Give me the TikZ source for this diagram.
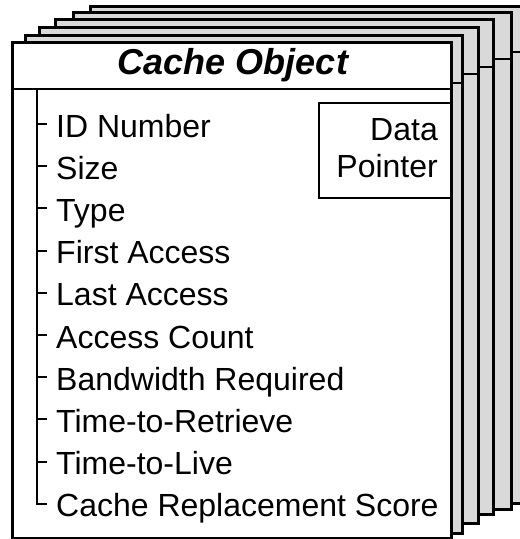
\documentclass[tikz,border=0pt]{standalone}
\usepackage{fontspec}
\setmainfont{Liberation Sans}
\definecolor{sheetgray}{RGB}{217,217,217}
\begin{document}
\begin{tikzpicture}[x=1pt,y=-1pt,
  sheet/.style={draw=black, fill=sheetgray, line width=3pt},
  frontsheet/.style={draw=black, fill=white, line width=3pt},
  sepline/.style={line width=2.8pt},
  treeline/.style={line width=2pt},
  item/.style={anchor=base west, inner sep=0pt, font=\fontsize{32}{38}\selectfont},
  ptrtext/.style={anchor=base east, inner sep=0pt, font=\fontsize{32}{38}\selectfont},
  titletext/.style={anchor=base, inner sep=0pt, font=\fontsize{36}{42}\selectfont\bfseries\itshape},
  ptrbox/.style={draw=black, line width=2.2pt, fill=white, inner sep=0pt, anchor=north west, minimum width=133pt, minimum height=95pt}]
\useasboundingbox (0,0) rectangle (520,539);
\begin{scope}
\clip (0,0) rectangle (520,539);
% back sheets: left, top, right, bottom, separator
\foreach \l/\t/\r/\b/\s in {90/6/528/503/52, 73/12/511/509/59, 55/19/493/514/67, 39/27/478/523/74, 25/35/462/533/83} {
  \draw[sheet] (\l,\t) rectangle (\r,\b);
  \draw[sepline] (\l,\s) -- (\r,\s);
}
% front sheet
\draw[frontsheet] (12,42) rectangle (451,538.5);
\draw[sepline] (12,89) -- (451,89);
\node[titletext] (title) at (233,74) {Cache Object};
% data pointer box
\node[ptrbox] (ptr) at (318,102) {};
\node[ptrtext] (ptrA) at (438,140) {Data};
\node[ptrtext] (ptrB) at (438,177.5) {Pointer};
% attribute list
\foreach \t [count=\i from 0] in {ID Number, Size, Type, First Access, Last Access, Access Count, Bandwidth Required, Time-to-Retrieve, Time-to-Live, Cache Replacement Score} {
  \node[item] (it\i) at (56,137+42.2*\i) {\t};
}
\foreach \i in {0,...,8} {
  \draw[treeline] (37,124+42.2*\i) -- (47,124+42.2*\i);
}
\draw[treeline] (37,89) |- (47,124+42.2*9);
\draw[frontsheet, fill=none] (12,42) rectangle (451,538.5);
\end{scope}
\end{tikzpicture}
\end{document}
